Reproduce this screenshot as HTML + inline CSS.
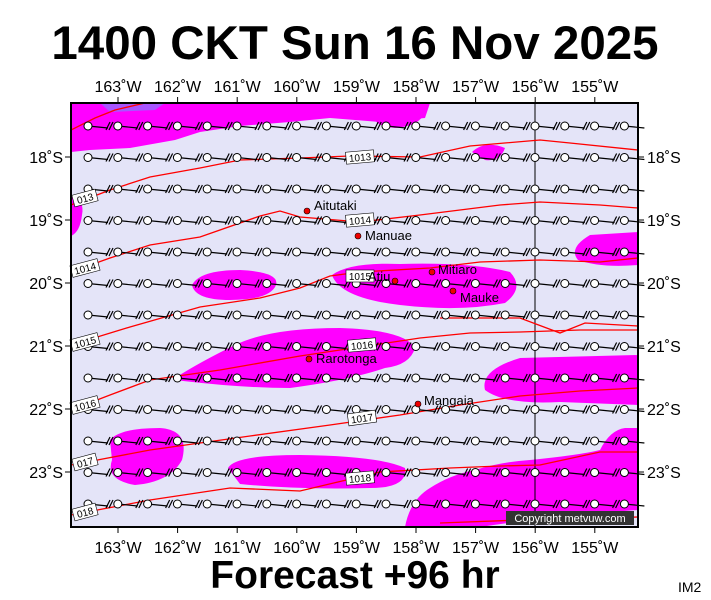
<!DOCTYPE html>
<html><head><meta charset="utf-8"><style>
body{margin:0;background:#fff;width:711px;height:600px;overflow:hidden;font-family:"Liberation Sans",sans-serif}
svg{position:absolute;left:0;top:0}
</style></head><body>
<svg id="s" width="711" height="600" viewBox="0 0 711 600" font-family="Liberation Sans, sans-serif">
<defs><clipPath id="c"><rect x="71" y="103" width="567" height="424"/></clipPath></defs>
<text x="355" y="59" font-size="47.5" font-weight="bold" text-anchor="middle">1400 CKT Sun 16 Nov 2025</text>
<rect x="71" y="103" width="567" height="424" fill="#e4e4f8"/>
<g clip-path="url(#c)" fill="#ff00ff">
<path d="M71,103 L430,103 L425,118 L380,122 L330,118 L290,122 L240,126 L200,132 L175,140 L130,148 L90,150 L71,152Z"/>
<path d="M100,103 L165,103 L155,110 L110,112Z" fill="#a855ff"/>
<path d="M375,118 Q400,100 425,112 Q420,126 395,128 Q375,126 375,118Z"/>
<path d="M71,195 Q85,200 82,215 Q80,232 71,236Z"/>
<path d="M472,152 Q485,140 505,148 Q500,162 485,160Z"/>
<path d="M638,232 L590,235 Q568,248 578,260 Q600,268 638,265Z"/>
<path d="M192,285 Q200,270 240,270 Q280,272 276,285 Q270,300 230,300 Q195,300 192,285Z"/>
<path d="M332,275 Q350,262 400,264 Q470,262 510,272 Q525,288 505,303 Q460,312 400,305 Q340,298 332,275Z"/>
<path d="M175,378 Q200,362 235,345 Q270,328 340,328 Q405,330 415,348 Q410,365 385,368 Q350,380 290,388 Q240,388 175,380Z"/>
<path d="M638,355 L520,358 Q480,370 485,390 Q505,405 560,402 L638,405Z"/>
<path d="M110,440 Q120,428 160,428 Q190,430 182,460 Q170,482 135,485 Q105,480 112,460Z"/>
<path d="M228,468 Q235,455 300,455 Q380,456 405,468 Q408,488 370,488 Q300,490 240,484Z"/>
<path d="M405,527 Q410,500 430,488 Q450,475 475,470 Q500,462 530,460 Q580,455 600,450 Q610,430 625,428 L638,428 L638,527Z"/>
<path d="M480,527 L638,527 L638,510 Q560,515 480,527Z" fill="#e4e4f8"/>
</g>
<line x1="535" y1="103" x2="535" y2="527" stroke="#000" stroke-width="1"/>
<g clip-path="url(#c)" fill="none" stroke="#f00" stroke-width="1.3">
<path d="M71,130 L95,118 L115,110 L145,103"/>
<path d="M71,205 L110,190 L150,177 L200,168 L240,160 L300,158 L350,156 L420,157 L470,146 L540,140 L570,143 L638,150"/>
<path d="M71,272 L110,258 L150,245 L200,237 L260,216 L280,211 L300,217 L360,222 L420,215 L500,205 L540,202 L600,205 L638,208"/>
<path d="M71,345 L130,327 L200,307 L260,298 L300,288 L330,276 L360,272 L430,268 L480,262 L540,260 L600,262 L638,258"/>
<path d="M440,318 L520,318 L560,333 L585,323 L638,326"/>
<path d="M71,410 L110,395 L150,380 L220,370 L300,356 L360,347 L420,338 L470,333 L520,332 L580,330 L638,330"/>
<path d="M71,465 L150,450 L250,436 L330,425 L400,415 L460,405 L520,396 L580,391 L638,388"/>
<path d="M71,515 L150,500 L230,488 L300,491 L380,472 L450,468 L500,466 L540,465 L600,452 L638,452"/>
<path d="M440,523 L520,520 L638,517"/>
</g>
<g id="st"></g>
<g font-size="10" text-anchor="middle">
<g transform="rotate(-15 85 198)"><rect x="73" y="192" width="24" height="12" fill="#fff" stroke="#000" stroke-width=".6"/><text x="85" y="202">013</text></g>
<g transform="rotate(-15 85 268)"><rect x="71" y="262" width="28" height="12" fill="#fff" stroke="#000" stroke-width=".6"/><text x="85" y="272">1014</text></g>
<g transform="rotate(-15 85 342)"><rect x="71" y="336" width="28" height="12" fill="#fff" stroke="#000" stroke-width=".6"/><text x="85" y="346">1015</text></g>
<g transform="rotate(-15 85 405)"><rect x="71" y="399" width="28" height="12" fill="#fff" stroke="#000" stroke-width=".6"/><text x="85" y="409">1016</text></g>
<g transform="rotate(-15 85 462)"><rect x="73" y="456" width="24" height="12" fill="#fff" stroke="#000" stroke-width=".6"/><text x="85" y="466">017</text></g>
<g transform="rotate(-15 85 512)"><rect x="73" y="506" width="24" height="12" fill="#fff" stroke="#000" stroke-width=".6"/><text x="85" y="516">018</text></g>
<g transform="rotate(-5 360 157)"><rect x="346" y="151" width="28" height="12" fill="#fff" stroke="#000" stroke-width=".6"/><text x="360" y="161">1013</text></g>
<g transform="rotate(-5 360 220)"><rect x="346" y="214" width="28" height="12" fill="#fff" stroke="#000" stroke-width=".6"/><text x="360" y="224">1014</text></g>
<rect x="346" y="270" width="28" height="12" fill="#fff" stroke="#000" stroke-width=".6"/><text x="360" y="280">1015</text>
<g transform="rotate(-5 362 345)"><rect x="348" y="339" width="28" height="12" fill="#fff" stroke="#000" stroke-width=".6"/><text x="362" y="349">1016</text></g>
<g transform="rotate(-8 362 418)"><rect x="348" y="412" width="28" height="12" fill="#fff" stroke="#000" stroke-width=".6"/><text x="362" y="422">1017</text></g>
<g transform="rotate(-5 360 478)"><rect x="346" y="472" width="28" height="12" fill="#fff" stroke="#000" stroke-width=".6"/><text x="360" y="482">1018</text></g>
</g>
<g fill="#e00" stroke="#000" stroke-width=".6">
<circle cx="307" cy="211" r="3"/><circle cx="358" cy="236" r="3"/><circle cx="395" cy="281" r="3"/><circle cx="432" cy="272" r="3"/><circle cx="453" cy="291" r="3"/><circle cx="309" cy="359" r="3"/><circle cx="418" cy="404" r="3"/>
</g>
<g font-size="13">
<text x="314" y="210">Aitutaki</text><text x="365" y="240">Manuae</text><text x="368" y="281">Atiu</text><text x="438" y="274">Mitiaro</text><text x="460" y="302">Mauke</text><text x="316" y="363">Rarotonga</text><text x="424" y="405">Mangaia</text>
</g>
<rect x="506" y="511" width="128" height="14" fill="#333"/>
<text x="570" y="522" font-size="11" fill="#fff" text-anchor="middle">Copyright metvuw.com</text>
<rect x="71" y="103" width="567" height="424" fill="none" stroke="#000" stroke-width="2"/>
<g id="ax" font-size="16"></g>
<text x="355" y="588" font-size="39" font-weight="bold" text-anchor="middle">Forecast +96 hr</text>
<text x="678" y="592" font-size="14">IM2</text>
</svg>
<script>
var st=document.getElementById("st"),ax=document.getElementById("ax"),h="";
for(var r=0;r<13;r++){var y=126+r*31.5;for(var c=0;c<19;c++){var x=88+c*29.8;
h+='<line x1="'+x+'" y1="'+y+'" x2="'+(x+20)+'" y2="'+(y+2)+'" stroke="#000" stroke-width="1.2"/>';
if(x+26<640)h+='<path d="M'+(x+18)+','+(y+4)+' L'+(x+22)+','+(y-4)+' M'+(x+21)+','+(y+4)+' L'+(x+25)+','+(y-4)+'" stroke="#000" stroke-width="1.2" fill="none"/>';
h+='<circle cx="'+x+'" cy="'+y+'" r="4" fill="#fff" stroke="#000" stroke-width="1"/>';}}
st.innerHTML=h;h="";
var L=["163","162","161","160","159","158","157","156","155"];
for(var i=0;i<9;i++){var x=118+i*59.6;h+='<line x1="'+x+'" y1="97" x2="'+x+'" y2="103" stroke="#000"/><line x1="'+x+'" y1="527" x2="'+x+'" y2="533" stroke="#000"/><text x="'+x+'" y="92" text-anchor="middle">'+L[i]+'˚W</text><text x="'+x+'" y="553" text-anchor="middle">'+L[i]+'˚W</text>';}
for(var j=0;j<6;j++){var y=157+j*63;h+='<line x1="65" y1="'+y+'" x2="71" y2="'+y+'" stroke="#000"/><line x1="638" y1="'+y+'" x2="644" y2="'+y+'" stroke="#000"/><text x="63" y="'+(y+6)+'" text-anchor="end">'+(18+j)+'˚S</text><text x="647" y="'+(y+6)+'">'+(18+j)+'˚S</text>';}
ax.innerHTML=h;
</script>
</body></html>
